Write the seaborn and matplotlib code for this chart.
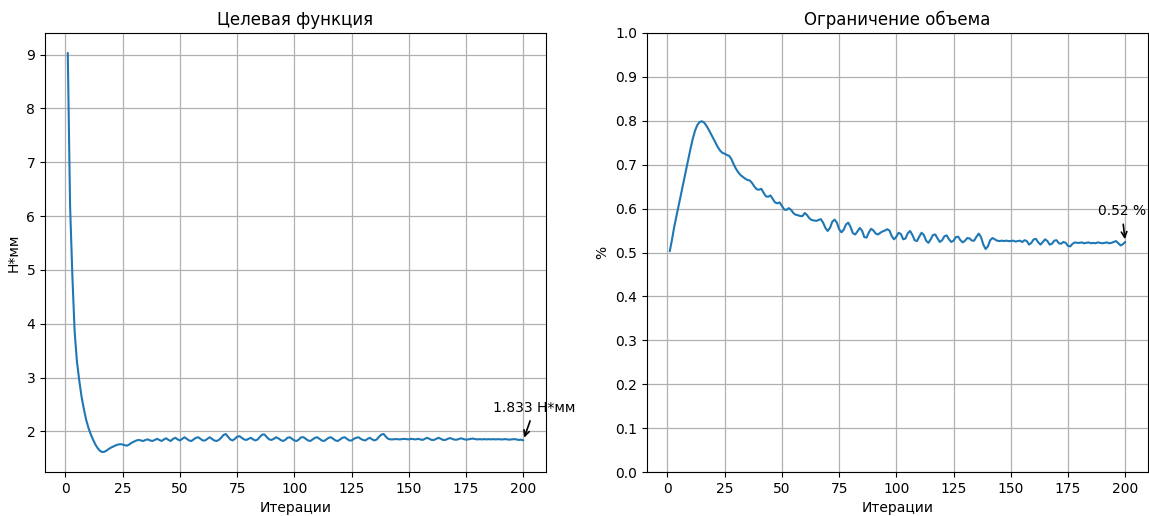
import matplotlib
matplotlib.use("Agg")
import matplotlib.pyplot as plt
import seaborn as sns
import pandas as pd

# ---------------- data ----------------
iterations = list(range(1, 201))

objective = [
    9.03, 6.20, 4.90, 3.85, 3.30, 2.95, 2.65, 2.42, 2.22, 2.07,
    1.95, 1.85, 1.76, 1.69, 1.64, 1.615, 1.62, 1.645, 1.675, 1.70,
    1.72, 1.74, 1.755, 1.76, 1.755, 1.74, 1.735, 1.76, 1.79, 1.81,
    1.83, 1.84, 1.83, 1.82, 1.84, 1.85, 1.83, 1.82, 1.84, 1.86,
    1.84, 1.82, 1.85, 1.87, 1.84, 1.82, 1.86, 1.88, 1.85, 1.83,
    1.86, 1.89, 1.86, 1.83, 1.82, 1.85, 1.88, 1.89, 1.86, 1.83,
    1.83, 1.86, 1.89, 1.86, 1.83, 1.82, 1.84, 1.88, 1.93, 1.95,
    1.90, 1.85, 1.83, 1.86, 1.90, 1.91, 1.88, 1.85, 1.84, 1.86,
    1.88, 1.85, 1.83, 1.85, 1.90, 1.94, 1.94, 1.89, 1.85, 1.84,
    1.86, 1.89, 1.87, 1.84, 1.82, 1.84, 1.88, 1.89, 1.86, 1.83,
    1.82, 1.85, 1.89, 1.89, 1.86, 1.83, 1.82, 1.85, 1.88, 1.89,
    1.86, 1.83, 1.82, 1.85, 1.88, 1.89, 1.86, 1.83, 1.82, 1.85,
    1.88, 1.89, 1.86, 1.83, 1.83, 1.86, 1.88, 1.89, 1.86, 1.84,
    1.83, 1.86, 1.88, 1.85, 1.83, 1.85, 1.90, 1.94, 1.95, 1.90,
    1.86, 1.85, 1.85, 1.855, 1.855, 1.85, 1.855, 1.86, 1.855, 1.85,
    1.86, 1.855, 1.85, 1.86, 1.85, 1.84, 1.86, 1.88, 1.86, 1.84,
    1.84, 1.86, 1.88, 1.86, 1.84, 1.84, 1.86, 1.875, 1.86, 1.845,
    1.845, 1.86, 1.87, 1.855, 1.845, 1.85, 1.86, 1.865, 1.855, 1.85,
    1.855, 1.85, 1.855, 1.85, 1.855, 1.85, 1.855, 1.85, 1.855, 1.85,
    1.85, 1.855, 1.85, 1.845, 1.85, 1.855, 1.85, 1.84, 1.845, 1.833,
]

volume = [
    0.503, 0.530, 0.560, 0.585, 0.610, 0.635, 0.660, 0.685, 0.710, 0.735,
    0.758, 0.777, 0.790, 0.797, 0.799, 0.796, 0.789, 0.780, 0.770, 0.760,
    0.750, 0.740, 0.732, 0.727, 0.725, 0.722, 0.720, 0.712, 0.700, 0.690,
    0.682, 0.676, 0.672, 0.668, 0.665, 0.664, 0.658, 0.650, 0.644, 0.643,
    0.645, 0.636, 0.628, 0.627, 0.630, 0.622, 0.614, 0.612, 0.614, 0.606,
    0.598, 0.597, 0.601, 0.597, 0.590, 0.586, 0.585, 0.583, 0.583, 0.590,
    0.585, 0.578, 0.574, 0.573, 0.572, 0.574, 0.576, 0.568, 0.556, 0.549,
    0.556, 0.570, 0.575, 0.568, 0.553, 0.546, 0.552, 0.564, 0.568, 0.558,
    0.544, 0.541, 0.548, 0.556, 0.550, 0.535, 0.534, 0.546, 0.554, 0.550,
    0.543, 0.541, 0.545, 0.548, 0.550, 0.553, 0.550, 0.537, 0.530, 0.536,
    0.545, 0.542, 0.530, 0.532, 0.544, 0.549, 0.540, 0.528, 0.526, 0.536,
    0.545, 0.540, 0.527, 0.522, 0.530, 0.540, 0.541, 0.532, 0.524, 0.528,
    0.537, 0.539, 0.530, 0.524, 0.527, 0.535, 0.536, 0.528, 0.523, 0.527,
    0.533, 0.532, 0.527, 0.527, 0.536, 0.543, 0.535, 0.518, 0.508, 0.514,
    0.528, 0.533, 0.530, 0.527, 0.526, 0.527, 0.526, 0.527, 0.526, 0.526,
    0.527, 0.525, 0.526, 0.527, 0.524, 0.528, 0.526, 0.518, 0.522, 0.530,
    0.531, 0.523, 0.518, 0.524, 0.530, 0.526, 0.518, 0.520, 0.527, 0.528,
    0.521, 0.520, 0.524, 0.522, 0.515, 0.514, 0.520, 0.523, 0.522, 0.522,
    0.523, 0.521, 0.522, 0.523, 0.521, 0.522, 0.521, 0.523, 0.522, 0.521,
    0.522, 0.523, 0.521, 0.522, 0.524, 0.526, 0.521, 0.516, 0.519, 0.524,
]

titles = ["Целевая функция", "Ограничение объема"]
ylabels = ["Н*мм", "%"]
xlabel = "Итерации"
final_labels = ["1.833 Н*мм", "0.52 %"]

# ---------------- plot ----------------
sns.set_style("ticks")
plt.rcParams["font.family"] = ["DejaVu Sans"]
plt.rcParams["text.color"] = "black"
plt.rcParams["axes.labelcolor"] = "black"
plt.rcParams["xtick.color"] = "black"
plt.rcParams["ytick.color"] = "black"

W, H = 1149, 516
fig = plt.figure(figsize=(W / 100, H / 100), dpi=100)
ax1 = fig.add_axes([45 / W, 44 / H, 501 / W, 439 / H])
ax2 = fig.add_axes([647 / W, 44 / H, 501 / W, 439 / H])

line_color = "#1f77b4"
df = pd.DataFrame({"it": iterations, "obj": objective, "vol": volume})

sns.lineplot(data=df, x="it", y="obj", ax=ax1, color=line_color, linewidth=1.5)
sns.lineplot(data=df, x="it", y="vol", ax=ax2, color=line_color, linewidth=1.5)

for ax, t, yl in zip([ax1, ax2], titles, ylabels):
    ax.set_title(t, fontsize=12, color="black")
    ax.set_xlabel(xlabel, fontsize=10)
    ax.set_ylabel(yl, fontsize=10)
    ax.grid(True, color="#b0b0b0", linewidth=0.9)
    ax.set_xticks([0, 25, 50, 75, 100, 125, 150, 175, 200])
    ax.tick_params(labelsize=10, direction="out", length=3.5, width=0.8,
                   colors="black")
    for s in ax.spines.values():
        s.set_color("black")
        s.set_linewidth(0.8)

ax1.set_yticks([2, 3, 4, 5, 6, 7, 8, 9])
ax2.set_ylim(0, 1.0)
ax2.set_yticks([0.0, 0.1, 0.2, 0.3, 0.4, 0.5, 0.6, 0.7, 0.8, 0.9, 1.0])

ax1.annotate(final_labels[0], xy=(iterations[-1], objective[-1]),
             xytext=(iterations[-1] + 5, objective[-1] + 0.6),
             ha="center", va="center", fontsize=10, color="black",
             arrowprops=dict(arrowstyle="->", color="black", lw=1.2),
             annotation_clip=False)
ax2.annotate(final_labels[1], xy=(iterations[-1], volume[-1]),
             xytext=(iterations[-1] - 1.5, volume[-1] + 0.07),
             ha="center", va="center", fontsize=10, color="black",
             arrowprops=dict(arrowstyle="->", color="black", lw=1.2),
             annotation_clip=False)

fig.savefig("out.png", dpi=100)
